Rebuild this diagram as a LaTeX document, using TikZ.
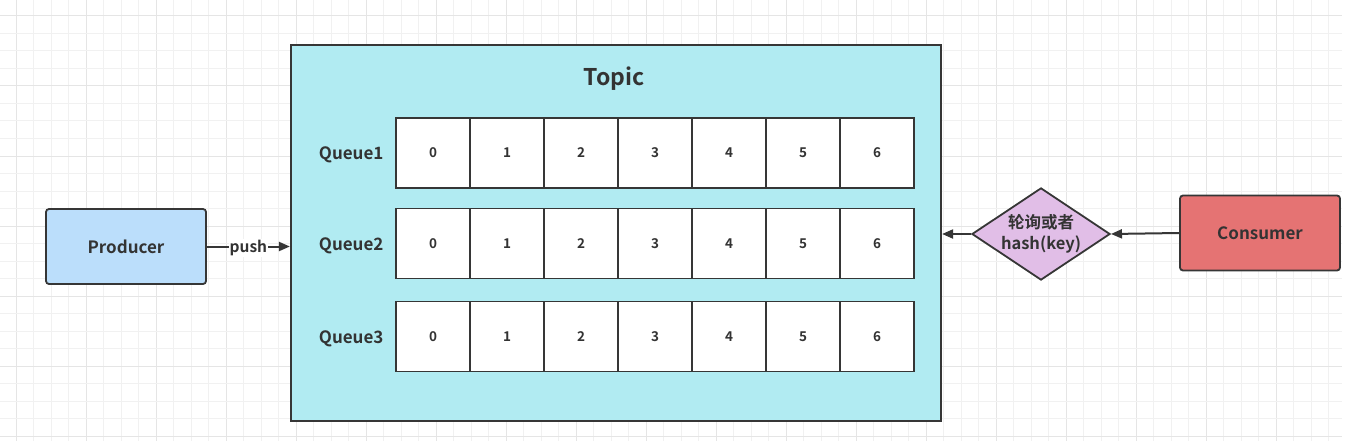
\documentclass[tikz,border=0pt]{standalone}
\usepackage{fontspec}
\setmainfont{Noto Sans CJK SC}[BoldFont={Noto Sans CJK SC Bold}]
\usetikzlibrary{arrows.meta,shapes.geometric}
\definecolor{gridminor}{HTML}{F1F1F1}
\definecolor{gridmajor}{HTML}{E5E5E5}
\definecolor{edge}{HTML}{363636}
\definecolor{txt}{HTML}{333333}
\definecolor{topicfill}{HTML}{B1EBF2}
\definecolor{prodfill}{HTML}{BBDEFB}
\definecolor{consfill}{HTML}{E57373}
\definecolor{diafill}{HTML}{E1BEE7}
\tikzset{
  cell/.style={draw=edge,line width=1.8pt,fill=white,minimum width=74pt,minimum height=70pt,inner sep=0pt,font=\bfseries\fontsize{13.5}{15}\selectfont,text=txt},
  qlabel/.style={font=\bfseries\fontsize{17}{20}\selectfont,text=txt},
  box/.style={draw=edge,line width=1.8pt,rounded corners=3pt,minimum width=160pt,minimum height=75pt,font=\bfseries\fontsize{17}{20}\selectfont,text=txt},
  conn/.style={draw=edge,line width=2pt,-{Triangle[length=11pt,width=9pt]}}
}
\begin{document}
\begin{tikzpicture}[x=1pt,y=-1pt]
\useasboundingbox (0,0) rectangle (1359,441);
\fill[white] (0,0) rectangle (1359,441);
% grid
\foreach \k in {0,...,75}{
  \pgfmathsetmacro\xx{16+17.5*\k}
  \pgfmathtruncatemacro\m{mod(\k,4)}
  \ifnum\m=0 \draw[gridmajor,line width=1pt] (\xx,0) -- (\xx,441);
  \else \draw[gridminor,line width=1pt] (\xx,0) -- (\xx,441); \fi
}
\foreach \k in {0,...,24}{
  \pgfmathsetmacro\yy{16+17.5*\k}
  \pgfmathtruncatemacro\m{mod(\k,4)}
  \ifnum\m=0 \draw[gridmajor,line width=1pt] (0,\yy) -- (1342,\yy);
  \else \draw[gridminor,line width=1pt] (0,\yy) -- (1342,\yy); \fi
}
% topic
\node[draw=edge,line width=2.2pt,fill=topicfill,minimum width=650pt,minimum height=376pt,inner sep=0pt] (topic) at (616,233) {};
\node[font=\bfseries\fontsize{23}{26}\selectfont,text=txt] (title) at (614,79) {Topic};
% queues
\foreach \r/\yc in {1/153,2/243.5,3/336.5}{
  \foreach \i in {0,...,6}{
    \node[cell] (c\r-\i) at (433+74*\i,\yc) {\i};
  }
  \node[qlabel,anchor=east] (q\r) at (387,\yc+2) {Queue\r};
}
% producer / consumer
\node[box,fill=prodfill] (prod) at (126,246.5) {Producer};
\node[box,fill=consfill] (cons) at (1260,233) {Consumer};
\node[diamond,draw=edge,line width=1.8pt,fill=diafill,minimum width=136pt,minimum height=90pt,inner sep=0pt,aspect=1.5,align=center,font=\bfseries\fontsize{16.5}{21}\selectfont,text=txt] (dia) at (1041,234) {轮询或者\\hash(key)};
\draw[conn] (prod.east) -- node[fill=white,inner sep=1pt,yshift=-1.5pt,font=\bfseries\fontsize{15.5}{17}\selectfont,text=txt] (pushlbl) {push} (prod.east -| topic.west);
\draw[conn] (dia.west) -- (dia.west -| topic.east);
\draw[conn] (cons.west) -- (dia.east);
\end{tikzpicture}
\end{document}
